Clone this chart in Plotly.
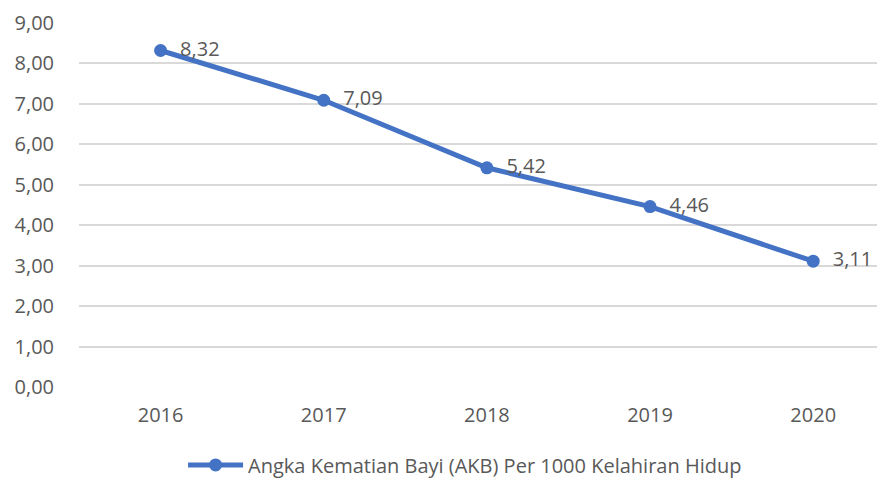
import plotly.graph_objects as go

years = ["2016", "2017", "2018", "2019", "2020"]
akb = [8.32, 7.09, 5.42, 4.46, 3.11]
series_name = "Angka Kematian Bayi (AKB) Per 1000 Kelahiran Hidup"
y_ticks = [0, 1, 2, 3, 4, 5, 6, 7, 8, 9]

FONT = "Open Sans"
GRAY = "#595959"
BLUE = "#4472C4"
FS = 20

fig = go.Figure()
fig.add_trace(go.Scatter(
    x=years, y=akb, name=series_name,
    mode="lines+markers+text",
    line=dict(color=BLUE, width=5),
    marker=dict(color=BLUE, size=13),
    texttemplate="  %{y:.2f}",
    textposition="middle right",
    textfont=dict(family=FONT, size=FS, color=GRAY),
    cliponaxis=False,
))

# page body has an 8px default margin, so the figure is sized to fit the window
fig.update_layout(
    width=877, height=472,
    margin=dict(l=71, r=0, t=15, b=93),
    paper_bgcolor="white", plot_bgcolor="white",
    separators=",.",
    font=dict(family=FONT, size=FS, color=GRAY),
    showlegend=True,
    legend=dict(orientation="h", x=0.479, xanchor="center",
                yref="container", y=0.032, yanchor="middle",
                itemwidth=55, borderwidth=0,
                font=dict(family=FONT, size=FS, color=GRAY)),
    xaxis=dict(type="category", range=[-0.5, 4.44], showgrid=False, showline=False,
               automargin=False,
               ticks="outside", ticklen=10, tickcolor="rgba(0,0,0,0)",
               tickfont=dict(family=FONT, size=FS, color=GRAY)),
    yaxis=dict(range=[0, 9], tickvals=y_ticks, tickformat=".2f",
               automargin=False,
               showgrid=True, gridcolor="#D9D9D9", gridwidth=1.5,
               zeroline=False, showline=False,
               ticks="outside", ticklen=20, tickcolor="rgba(0,0,0,0)",
               tickfont=dict(family=FONT, size=FS, color=GRAY)),
)

fig.write_html("out.html")
